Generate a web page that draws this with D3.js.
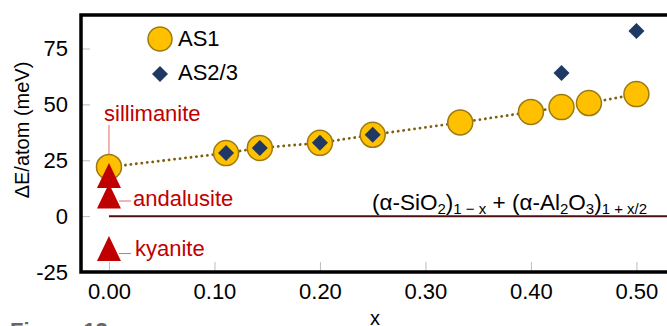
<!DOCTYPE html>
<html>
<head>
<meta charset="utf-8">
<script src="https://cdn.jsdelivr.net/npm/d3@7"></script>
<style>
  body { margin: 0; background: #fff; }
  svg { display: block; font-family: "Liberation Sans", Arial, sans-serif; }
</style>
</head>
<body>
<div id="chart"></div>
<script>
// data
const as1X = [0, 0.111, 0.143, 0.2, 0.25, 0.333, 0.4, 0.429, 0.455, 0.5];
const as1Y = [22.0, 28.2, 30.5, 32.8, 36.4, 41.9, 46.6, 48.8, 50.6, 54.6];
const as23X = [0.111, 0.143, 0.2, 0.25, 0.429, 0.5];
const as23Y = [28.2, 30.5, 32.8, 36.4, 64.0, 82.8];
const minerals = ["sillimanite", "andalusite", "kyanite"];
const mineralX = [0, 0, 0];
const mineralY = [18.2, 9.0, -14.5];
const xTicks = [0, 0.1, 0.2, 0.3, 0.4, 0.5];
const yTicks = [-25, 0, 25, 50, 75];

const width = 667, height = 326;
const margin = { top: 15, right: 0, bottom: 54, left: 81 };
const font = "Liberation Sans, Arial, sans-serif";

const svg = d3.select("#chart").append("svg")
    .attr("width", width)
    .attr("height", height);

const xScale = d3.scaleLinear()
    .domain([-0.0265, 0.529])
    .range([margin.left, width - margin.right]);
const yScale = d3.scaleLinear()
    .domain([-25, 90])
    .range([height - margin.bottom, margin.top]);

// ticks (inward, light grey)
const yAxis = d3.axisLeft(yScale).tickValues(yTicks).tickSize(-9).tickPadding(13)
    .tickFormat(d => String(d));
svg.append("g")
    .attr("transform", `translate(${margin.left},0)`)
    .call(yAxis)
    .call(g => g.select(".domain").remove())
    .call(g => g.selectAll("line").attr("stroke", "#bbb"))
    .call(g => g.selectAll("text").attr("font-size", 22).attr("fill", "#000")
        .attr("font-family", font));

const xAxis = d3.axisBottom(xScale).tickValues(xTicks).tickSize(-10).tickPadding(11)
    .tickFormat(d3.format(".2f"));
svg.append("g")
    .attr("transform", `translate(0,${height - margin.bottom})`)
    .call(xAxis)
    .call(g => g.select(".domain").remove())
    .call(g => g.selectAll("line").attr("stroke", "#bbb"))
    .call(g => g.selectAll("text").attr("font-size", 22).attr("fill", "#000")
        .attr("font-family", font));

// frame
svg.append("path")
    .attr("d", `M${width + 5},${margin.top}H${margin.left}V${height - margin.bottom}H${width + 5}`)
    .attr("fill", "none")
    .attr("stroke", "#000")
    .attr("stroke-width", 3.5);

// zero reference line
svg.append("line")
    .attr("x1", xScale(0)).attr("x2", width)
    .attr("y1", yScale(0)).attr("y2", yScale(0))
    .attr("stroke", "#4a1212")
    .attr("stroke-width", 2);

// formula
const formula = svg.append("text")
    .attr("x", 372).attr("y", 210)
    .attr("font-size", 22.5)
    .attr("fill", "#000");
const parts = [
    ["(α-SiO", 0], ["2", 1], [")", 0], ["1 − x", 1], [" + (α-Al", 0], ["2", 1],
    ["O", 0], ["3", 1], [")", 0], ["1 + x/2", 1]
];
let shifted = false;
parts.forEach(([t, sub]) => {
    const ts = formula.append("tspan").text(t);
    if (sub) { ts.attr("font-size", 15); if (!shifted) ts.attr("dy", 4); shifted = true; }
    else if (shifted) { ts.attr("dy", -4); shifted = false; }
});

// leaders for mineral labels
const leadColor = "#e06a6a";
svg.append("line")
    .attr("x1", xScale(0)).attr("x2", xScale(0))
    .attr("y1", 125).attr("y2", yScale(as1Y[0]))
    .attr("stroke", leadColor).attr("stroke-width", 1);

// dotted line through AS1
const as1 = as1X.map((x, i) => ({ x, y: as1Y[i] }));
svg.append("path")
    .datum(as1)
    .attr("d", d3.line().x(d => xScale(d.x)).y(d => yScale(d.y)))
    .attr("fill", "none")
    .attr("stroke", "#7d600c")
    .attr("stroke-width", 2.8)
    .attr("stroke-linecap", "round")
    .attr("stroke-dasharray", "0.1,5.4");

// AS1 circles
svg.append("g").selectAll("circle")
    .data(as1)
    .join("circle")
    .attr("cx", d => xScale(d.x))
    .attr("cy", d => yScale(d.y))
    .attr("r", 12.5)
    .attr("fill", "#ffc000")
    .attr("stroke", "#9c7a10")
    .attr("stroke-width", 1.5);

// AS2/3 diamonds
const diamond = d3.symbol().type(d3.symbolSquare).size(128);
const as23 = as23X.map((x, i) => ({ x, y: as23Y[i] }));
svg.append("g").selectAll("path")
    .data(as23)
    .join("path")
    .attr("d", diamond)
    .attr("transform", d => `translate(${xScale(d.x)},${yScale(d.y)}) rotate(45)`)
    .attr("fill", "#1f3864");

// minerals
const tri = {
    draw(ctx, size) {
        const w = 12, h = 12.5;
        ctx.moveTo(0, -h);
        ctx.lineTo(w, h);
        ctx.lineTo(-w, h);
        ctx.closePath();
    }
};
const mins = minerals.map((name, i) => ({ name, x: mineralX[i], y: mineralY[i] }));
svg.append("g").selectAll("path")
    .data(mins)
    .join("path")
    .attr("d", d3.symbol().type(tri))
    .attr("transform", d => `translate(${xScale(d.x)},${yScale(d.y)})`)
    .attr("fill", "#c00000");

// horizontal leaders for andalusite and kyanite
svg.append("g").selectAll("line")
    .data(mins.slice(1))
    .join("line")
    .attr("x1", d => xScale(d.x) + 10).attr("x2", d => xScale(d.x) + 22)
    .attr("y1", d => yScale(d.y) + 5).attr("y2", d => yScale(d.y) + 5)
    .attr("stroke", leadColor).attr("stroke-width", 1);

const labelPos = [[104, 121], [133, 206], [135, 256]];
svg.append("g").selectAll("text")
    .data(mins)
    .join("text")
    .attr("x", (d, i) => labelPos[i][0])
    .attr("y", (d, i) => labelPos[i][1])
    .attr("font-size", 22)
    .attr("fill", "#c00000")
    .text(d => d.name);

// legend
const legend = svg.append("g");
legend.append("circle")
    .attr("cx", 160).attr("cy", 39).attr("r", 12)
    .attr("fill", "#ffc000").attr("stroke", "#9c7a10").attr("stroke-width", 1.5);
legend.append("text").attr("x", 178).attr("y", 46).attr("font-size", 22).text("AS1");
legend.append("path")
    .attr("d", diamond)
    .attr("transform", "translate(160,74) rotate(45)")
    .attr("fill", "#1f3864");
legend.append("text").attr("x", 178).attr("y", 80).attr("font-size", 22).text("AS2/3");

// axis titles
svg.append("text")
    .attr("transform", "translate(29,130) rotate(-90)")
    .attr("text-anchor", "middle")
    .attr("font-size", 20)
    .text("ΔE/atom (meV)");
svg.append("text")
    .attr("x", 375).attr("y", 325)
    .attr("text-anchor", "middle")
    .attr("font-size", 20)
    .text("x");

// caption, cut off at bottom
svg.append("text")
    .attr("x", 10).attr("y", 338)
    .attr("font-size", 22)
    .attr("font-weight", "bold")
    .attr("fill", "#666")
    .text("Figure 12");
</script>
</body>
</html>
